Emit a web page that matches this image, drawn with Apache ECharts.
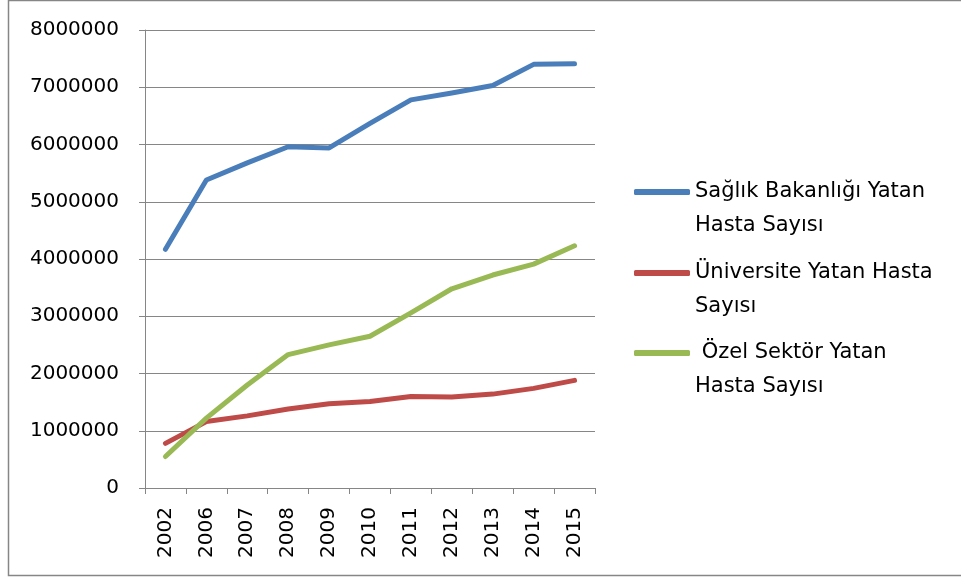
<!DOCTYPE html>
<html>
<head>
<meta charset="utf-8">
<script src="https://cdn.jsdelivr.net/npm/echarts@6/dist/echarts.min.js"></script>
<style>
  html, body { margin: 0; padding: 0; background: #fff; }
  #chart { width: 961px; height: 578px; }
</style>
</head>
<body>
<div id="chart"></div>
<script>
// data
var years = ['2002', '2006', '2007', '2008', '2009', '2010', '2011', '2012', '2013', '2014', '2015'];
var saglikBakanligi = [4170000, 5380000, 5680000, 5960000, 5940000, 6370000, 6780000, 6900000, 7030000, 7400000, 7410000];
var universite = [780000, 1160000, 1260000, 1380000, 1470000, 1510000, 1600000, 1590000, 1640000, 1740000, 1880000];
var ozelSektor = [550000, 1220000, 1800000, 2330000, 2500000, 2650000, 3060000, 3480000, 3720000, 3910000, 4230000];
var seriesNames = ['Sağlık Bakanlığı Yatan Hasta Sayısı', 'Üniversite Yatan Hasta Sayısı', ' Özel Sektör Yatan Hasta Sayısı'];
var legendLabels = ['Sağlık Bakanlığı Yatan\nHasta Sayısı', 'Üniversite Yatan Hasta\nSayısı', ' Özel Sektör Yatan\nHasta Sayısı'];
var colors = ['#4A7EBB', '#BE4B48', '#98B954'];

var font = 'DejaVu Sans';
var gridColor = '#868686';

var chart = echarts.init(document.getElementById('chart'));

// one legend per series so the icon sits on the first text line
function makeLegend(i, top) {
  return {
    data: [seriesNames[i]],
    left: 634,
    top: top,
    padding: 0,
    icon: 'roundRect',
    itemWidth: 56,
    itemHeight: 6,
    selectedMode: false,
    formatter: function () { return ' \n' + legendLabels[i]; },
    textStyle: {
      fontFamily: font,
      fontSize: 21,
      color: '#000',
      lineHeight: 34
    }
  };
}

var option = {
  animation: false,
  backgroundColor: '#fff',
  color: colors,
  grid: { left: 145, right: 366, top: 30, bottom: 90, containLabel: false },
  legend: [makeLegend(0, 141), makeLegend(1, 222), makeLegend(2, 302)],
  xAxis: {
    type: 'category',
    data: years,
    boundaryGap: true,
    axisLine: { lineStyle: { color: gridColor, width: 1 } },
    axisTick: { show: true, length: 6, interval: 0, lineStyle: { color: gridColor } },
    axisLabel: {
      rotate: 90,
      margin: 19,
      interval: 0,
      fontFamily: font,
      fontSize: 20,
      color: '#000'
    },
    splitLine: { show: false }
  },
  yAxis: {
    type: 'value',
    min: 0,
    max: 8000000,
    interval: 1000000,
    axisLine: { show: true, lineStyle: { color: gridColor, width: 1 } },
    axisTick: { show: true, length: 6, lineStyle: { color: gridColor } },
    axisLabel: {
      margin: 26,
      fontFamily: font,
      fontSize: 20,
      color: '#000',
      formatter: function (v) { return String(v); }
    },
    splitLine: { show: true, lineStyle: { color: gridColor, width: 1 } }
  },
  graphic: [{
    type: 'rect',
    shape: { x: 8.5, y: 0.5, width: 970, height: 575 },
    style: { fill: null, stroke: gridColor, lineWidth: 1.5 },
    silent: true
  }],
  series: [
    { name: seriesNames[0], type: 'line', data: saglikBakanligi },
    { name: seriesNames[1], type: 'line', data: universite },
    { name: seriesNames[2], type: 'line', data: ozelSektor }
  ].map(function (s, i) {
    s.showSymbol = false;
    s.symbol = 'none';
    s.lineStyle = { width: 5, color: colors[i], cap: 'round', join: 'round' };
    s.itemStyle = { color: colors[i] };
    return s;
  })
};

chart.setOption(option);
</script>
</body>
</html>
